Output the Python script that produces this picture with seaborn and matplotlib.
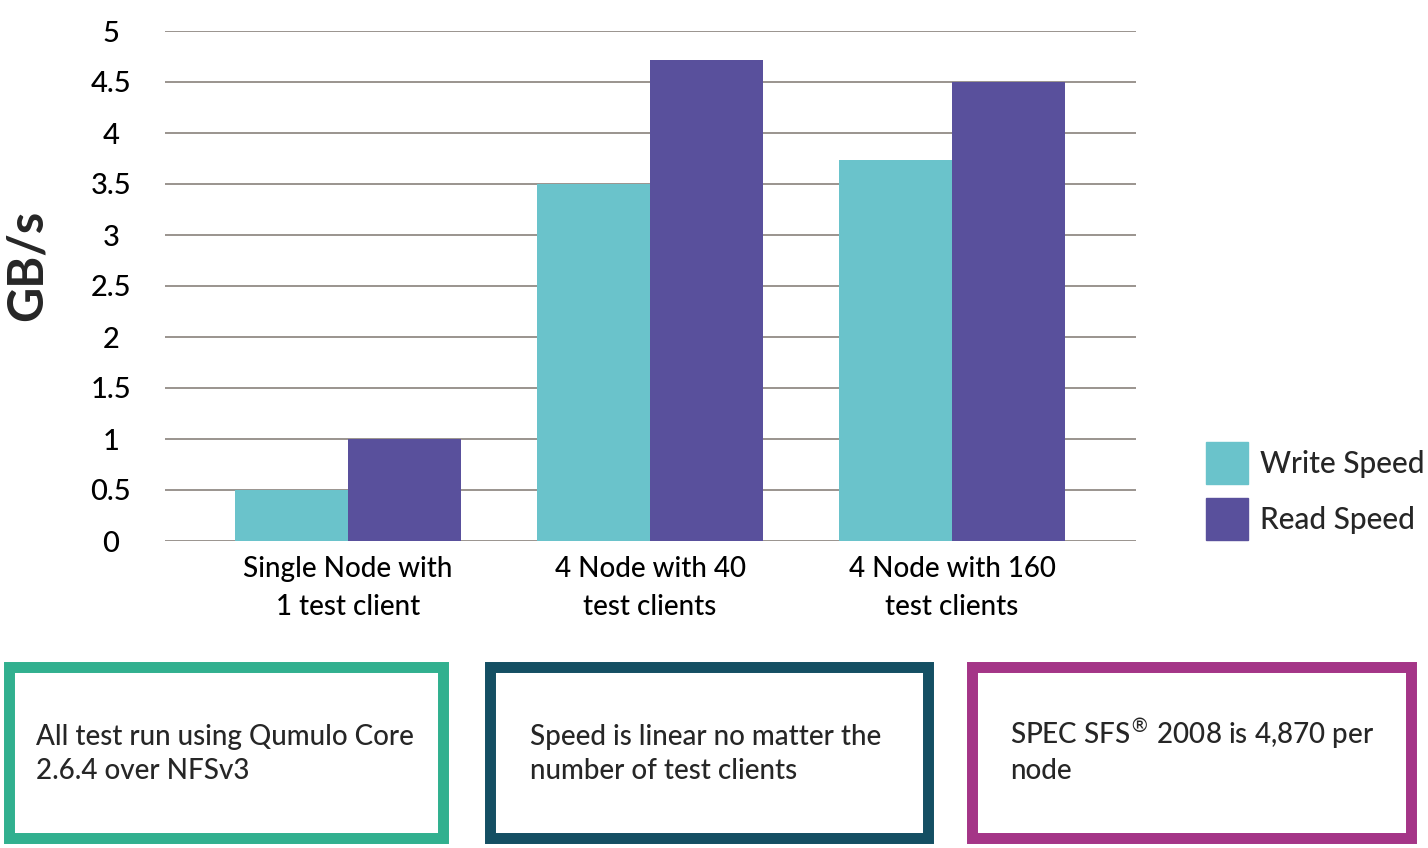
import matplotlib
matplotlib.use("Agg")
import matplotlib.pyplot as plt
import matplotlib.patches as mpatches
import pandas as pd
import seaborn as sns

# chart data
configs = ["Single Node with\n1 test client", "4 Node with 40\ntest clients", "4 Node with 160\ntest clients"]
write_speed = [0.5, 3.5, 3.74]
read_speed = [1.0, 4.72, 4.5]
series = ["Write Speed", "Read Speed"]
y_ticks = [0, 0.5, 1, 1.5, 2, 2.5, 3, 3.5, 4, 4.5, 5]
notes = [["All test run using Qumulo Core", "2.6.4 over NFSv3"],
         ["Speed is linear no matter the", "number of test clients"],
         ["SPEC SFS$^{\u00ae}$ 2008 is 4,870 per", "node"]]

write_color = "#6AC3CB"
read_color = "#59509C"
box_colors = ["#31B08F", "#144F63", "#A43587"]
grid_color = "#7F7670"

sns.set_theme(style="white")
plt.rcParams["font.family"] = ["Lato", "DejaVu Sans"]
plt.rcParams["font.weight"] = "medium"

df = pd.DataFrame({
    "config": configs * 2,
    "series": [series[0]] * 3 + [series[1]] * 3,
    "speed": write_speed + read_speed,
})

W, H = 1428, 848
fig = plt.figure(figsize=(W / 100, H / 100), dpi=100)
ax = fig.add_axes([165 / W, 1 - 541 / H, (1136 - 165) / W, (541 - 31) / H])

sns.barplot(data=df, x="config", y="speed", hue="series", palette=[write_color, read_color],
            width=0.75, saturation=1, linewidth=0, ax=ax)

ax.set_xlim(-0.606, 2.609)
ax.set_ylim(0, 5)
ax.set_yticks(y_ticks)
ax.set_yticklabels([f"{t:g}" for t in y_ticks])
ax.yaxis.grid(True, color=grid_color, linewidth=1.1)
ax.set_axisbelow(True)
for s in ax.spines.values():
    s.set_visible(False)
ax.tick_params(axis="y", length=0, pad=39, labelsize=21, colors="black")
ax.tick_params(axis="x", length=0, pad=11, labelsize=20, colors="black")
for lab in ax.get_yticklabels():
    lab.set_ha("center")
for lab in ax.get_xticklabels():
    lab.set_linespacing(1.55)
ax.set_xlabel("")
ax.set_ylabel("")
fig.text(27 / W, 1 - 265 / H, "GB/s", rotation=90, fontsize=35, fontweight="bold",
         ha="center", va="center")

ax.get_legend().remove()
handles = [mpatches.Patch(color=write_color), mpatches.Patch(color=read_color)]
fig.legend(handles, series, loc="upper left", bbox_to_anchor=(1206 / W, 1 - 442 / H),
           frameon=False, fontsize=21.5, handlelength=1.4, handleheight=1.785,
           handletextpad=0.4, labelspacing=0.47, borderpad=0, borderaxespad=0)

# note boxes under the chart
box_x = [(8.5, 443.5), (489.5, 927.5), (971.5, 1410.5)]
text_x = [36, 530, 1010]
baselines = [745, 779]
for (x0, x1), tx, c, lines in zip(box_x, text_x, box_colors, notes):
    fig.patches.append(mpatches.Rectangle((x0 / W, 1 - 837.5 / H), (x1 - x0) / W, 171 / H,
                                          transform=fig.transFigure, fill=False,
                                          edgecolor=c, linewidth=7.9))
    for line, by in zip(lines, baselines):
        fig.text(tx / W, 1 - by / H, line, fontsize=20, ha="left", va="baseline")

fig.savefig("out.png", dpi=100)
